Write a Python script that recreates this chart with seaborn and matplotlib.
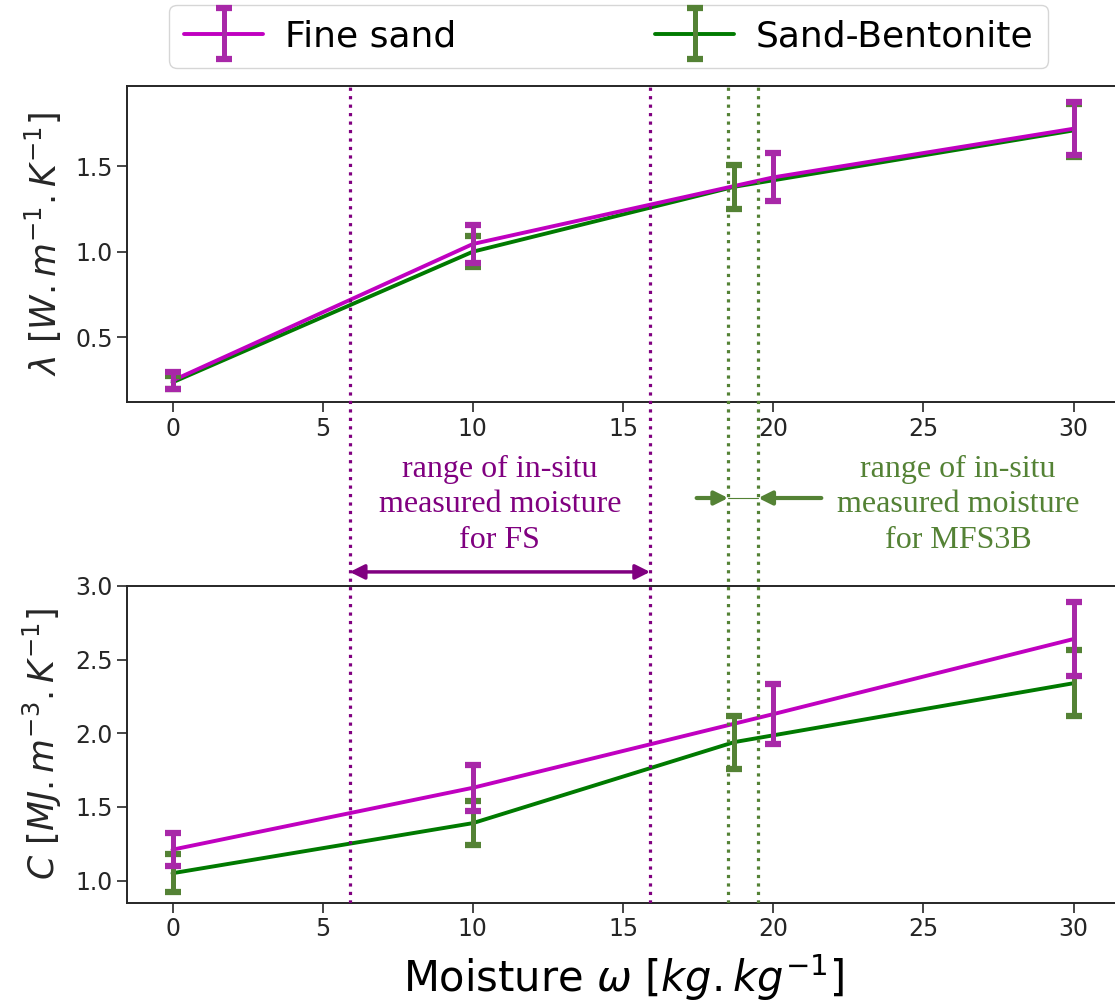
import numpy as np
import pandas as pd
import seaborn as sns
import matplotlib.pyplot as plt
from matplotlib.container import ErrorbarContainer
from matplotlib.legend_handler import HandlerErrorbar, HandlerTuple

# moisture of the measured points [kg/kg]
w_fs = [0, 10, 20, 30]
w_sb = [0, 10, 18.7, 30]

# thermal conductivity lambda [W/m/K]
lam_fs = [0.245, 1.045, 1.435, 1.72]
lam_fs_err = [0.05, 0.11, 0.14, 0.155]
lam_sb = [0.235, 1.0, 1.38, 1.71]
lam_sb_err = [0.04, 0.09, 0.13, 0.155]

# volumetric heat capacity C [MJ/m3/K]
c_fs = [1.21, 1.63, 2.13, 2.64]
c_fs_err = [0.11, 0.155, 0.205, 0.25]
c_sb = [1.05, 1.39, 1.94, 2.34]
c_sb_err = [0.13, 0.15, 0.18, 0.225]

# range of in-situ measured moisture
fs_range = [5.9, 15.9]
sb_range = [18.5, 19.5]

labels = ['Fine sand', 'Sand-Bentonite']
line_col = {'Fine sand': '#c000c0', 'Sand-Bentonite': '#007a00'}
bar_col = {'Fine sand': '#a828a8', 'Sand-Bentonite': '#548235'}
purple = '#800080'
olive = '#548235'

sns.set_theme(style='ticks')
plt.rcParams['font.family'] = ['DejaVu Sans']
plt.rcParams['mathtext.fontset'] = 'dejavusans'

fig = plt.figure(figsize=(11.15, 10.07), dpi=100)
L, W = 0.1143, 0.889
ax1 = fig.add_axes([L, 0.6008, W, 0.3138])
ax2 = fig.add_axes([L, 0.1036, W, 0.3145])


def draw(ax, y_fs, e_fs, y_sb, e_sb):
    df = pd.DataFrame({'w': w_sb + w_fs,
                       'val': y_sb + y_fs,
                       'mat': [labels[1]] * len(w_sb) + [labels[0]] * len(w_fs)})
    sns.lineplot(data=df, x='w', y='val', hue='mat', hue_order=[labels[1], labels[0]],
                 palette=line_col, linewidth=2.8, estimator=None, legend=False, ax=ax)
    l_sb, l_fs = ax.get_lines()[:2]
    eb_sb = ax.errorbar(w_sb, y_sb, yerr=e_sb, fmt='none', ecolor=bar_col[labels[1]],
                        elinewidth=3.6, capsize=6, capthick=4.5, zorder=3)
    eb_fs = ax.errorbar(w_fs, y_fs, yerr=e_fs, fmt='none', ecolor=bar_col[labels[0]],
                        elinewidth=3.6, capsize=6, capthick=4.5, zorder=3)
    ax.set_xlim(-1.5, 31.5)
    ax.set_xticks([0, 5, 10, 15, 20, 25, 30])
    ax.set_xlabel('')
    ax.tick_params(labelsize=17, length=7, width=1.2, color='.15')
    for s in ax.spines.values():
        s.set_linewidth(1.4)
        s.set_color('.15')
    return (l_fs, eb_fs), (l_sb, eb_sb)


h_fs, h_sb = draw(ax1, lam_fs, lam_fs_err, lam_sb, lam_sb_err)
ax1.set_ylim(0.12, 1.97)
ax1.set_yticks([0.5, 1.0, 1.5])
ax1.set_ylabel(r'$\lambda\ [W.m^{-1}.K^{-1}]$', fontsize=25, labelpad=8)

draw(ax2, c_fs, c_fs_err, c_sb, c_sb_err)
ax2.set_ylim(0.85, 3.0)
ax2.set_yticks([1.0, 1.5, 2.0, 2.5, 3.0])
ax2.set_ylabel(r'$C\ [MJ.m^{-3}.K^{-1}]$', fontsize=25, labelpad=8)
ax2.set_xlabel(r'Moisture $\omega$ $[kg.kg^{-1}]$', fontsize=30, labelpad=8, color='black')

# overlay for the moisture ranges, spanning both panels
ov = fig.add_axes([L, 0.1036, W, 0.811], facecolor='none')
ov.set_xlim(-1.5, 31.5)
ov.set_ylim(0, 1)
ov.axis('off')
for x in fs_range:
    ov.axvline(x, color=purple, ls=':', lw=2.3)
for x in sb_range:
    ov.axvline(x, color=olive, ls=':', lw=2.3)

ov.text(10.9, 0.487, 'range of in-situ\nmeasured moisture\nfor FS', color=purple,
        family='Liberation Serif', fontsize=23, ha='center', va='center', linespacing=1.28)
ov.text(26.15, 0.487, 'range of in-situ\nmeasured moisture\nfor MFS3B', color=olive,
        family='Liberation Serif', fontsize=23, ha='center', va='center', linespacing=1.28)

ov.annotate('', xy=(fs_range[0], 0.405), xytext=(fs_range[1], 0.405),
            arrowprops=dict(arrowstyle='<|-|>', color=purple, lw=2.5, mutation_scale=22,
                            shrinkA=0, shrinkB=0))
ov.annotate('', xy=(sb_range[0], 0.4955), xytext=(17.45, 0.4955),
            arrowprops=dict(arrowstyle='-|>', color=olive, lw=3, mutation_scale=20,
                            shrinkA=0, shrinkB=0))
ov.annotate('', xy=(sb_range[1], 0.4955), xytext=(21.6, 0.4955),
            arrowprops=dict(arrowstyle='-|>', color=olive, lw=3, mutation_scale=20,
                            shrinkA=0, shrinkB=0))
ov.plot(sb_range, [0.4955, 0.4955], color=olive, lw=0.8)

leg = fig.legend([h_fs, h_sb], labels, loc='center', bbox_to_anchor=(0.546, 0.964), ncol=2,
                 fontsize=26, handlelength=2.2, handletextpad=0.6, columnspacing=5.5,
                 frameon=True, edgecolor='0.8', fancybox=True,
                 handler_map={tuple: HandlerTuple(ndivide=1),
                              ErrorbarContainer: HandlerErrorbar(yerr_size=0.7)})
for t in leg.get_texts():
    t.set_color('black')

fig.savefig('out.png', dpi=100)
